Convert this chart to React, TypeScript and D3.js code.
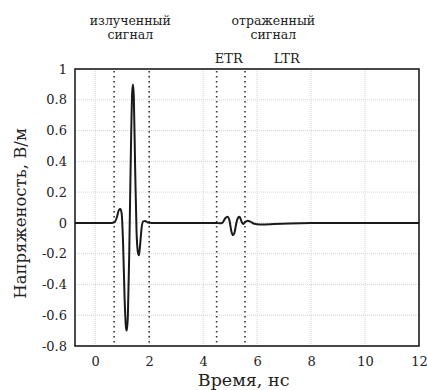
import { useEffect, useRef } from 'react'
import * as d3 from 'd3'

// signal: [time ns, field V/m]
const signal: [number, number][] = [
  [-0.75, 0], [0.6, 0], [0.72, 0.005], [0.8, 0.035], [0.88, 0.085], [0.93, 0.09], [0.98, 0.06],
  [1.03, -0.12], [1.09, -0.5], [1.14, -0.68], [1.17, -0.7], [1.21, -0.6], [1.26, -0.2],
  [1.32, 0.45], [1.37, 0.85], [1.4, 0.9], [1.43, 0.82], [1.48, 0.35], [1.53, -0.05],
  [1.58, -0.19], [1.62, -0.21], [1.66, -0.15], [1.72, -0.03], [1.78, 0.01], [1.85, 0.012],
  [1.95, 0.003], [2.1, 0], [4.5, 0], [4.62, -0.003], [4.72, 0.002], [4.82, 0.03],
  [4.9, 0.04], [4.97, 0.02], [5.04, -0.05], [5.1, -0.08], [5.16, -0.065], [5.23, 0.0],
  [5.3, 0.035], [5.35, 0.04], [5.41, 0.015], [5.48, -0.008], [5.55, 0.005], [5.65, 0.014],
  [5.75, 0.008], [5.9, -0.006], [6.1, -0.01], [6.6, -0.008], [7.2, -0.004], [8, -0.001],
  [9, 0], [12, 0],
]
const markers = [0.7, 2.0, 4.5, 5.55]
const xTicks = [0, 2, 4, 6, 8, 10, 12]
const yTicks = [-0.8, -0.6, -0.4, -0.2, 0, 0.2, 0.4, 0.6, 0.8, 1]
const notes = [
  { x: 1.3, lines: ['излученный', 'сигнал'] },
  { x: 6.6, lines: ['отраженный', 'сигнал'] },
]
const regions = [
  { x: 4.95, label: 'ETR' },
  { x: 7.1, label: 'LTR' },
]

export default function App() {
  const svgRef = useRef<SVGSVGElement>(null)

  useEffect(() => {
    if (!svgRef.current) return
    const svg = d3.select(svgRef.current)
    svg.selectAll('*').remove()
    const width = 427
    const height = 390
    const margin = { top: 69, right: 8, bottom: 44, left: 75 }
    const w = width - margin.left - margin.right
    const h = height - margin.top - margin.bottom
    const font = 'DejaVu Serif'

    svg.attr('width', width).attr('height', height)
    const g = svg.append('g').attr('transform', `translate(${margin.left},${margin.top})`)

    const x = d3.scaleLinear().domain([-0.75, 12]).range([0, w])
    const y = d3.scaleLinear().domain([-0.8, 1]).range([h, 0])

    // grid
    g.selectAll('.gx').data(xTicks).enter().append('line')
      .attr('x1', (d) => x(d)).attr('x2', (d) => x(d)).attr('y1', 0).attr('y2', h)
      .attr('stroke', '#d4d4d4').attr('stroke-width', 1).attr('stroke-dasharray', '1,1')
    g.selectAll('.gy').data(yTicks).enter().append('line')
      .attr('x1', 0).attr('x2', w).attr('y1', (d) => y(d)).attr('y2', (d) => y(d))
      .attr('stroke', '#d4d4d4').attr('stroke-width', 1).attr('stroke-dasharray', '1,1')

    // marker lines
    g.selectAll('.mk').data(markers).enter().append('line')
      .attr('x1', (d) => x(d)).attr('x2', (d) => x(d)).attr('y1', 2).attr('y2', h)
      .attr('stroke', '#333').attr('stroke-width', 1.6).attr('stroke-dasharray', '1.5,3.5')

    // signal
    const line = d3.line<[number, number]>()
      .x((d) => x(d[0]))
      .y((d) => y(d[1]))
      .curve(d3.curveMonotoneX)
    g.append('path').datum(signal)
      .attr('fill', 'none').attr('stroke', '#1a1a1a').attr('stroke-width', 2)
      .attr('stroke-linejoin', 'round').attr('d', line)

    // frame
    g.append('rect').attr('width', w).attr('height', h)
      .attr('fill', 'none').attr('stroke', '#111').attr('stroke-width', 1.5)

    // axes
    const xAxis = g.append('g').attr('transform', `translate(0,${h})`)
      .call(d3.axisBottom(x).tickValues(xTicks).tickSize(0).tickPadding(11).tickFormat((d) => String(d)))
    xAxis.select('.domain').remove()
    const yAxis = g.append('g')
      .call(d3.axisLeft(y).tickValues(yTicks).tickSize(0).tickPadding(8).tickFormat((d) => String(d)))
    yAxis.select('.domain').remove()
    g.selectAll('.tick text').attr('font-family', font).attr('font-size', 13).attr('fill', '#222')

    // axis labels
    g.append('text')
      .attr('transform', `translate(${-49},${h / 2 + 6}) rotate(-90)`)
      .attr('text-anchor', 'middle').attr('font-family', font).attr('font-size', 16.5).attr('fill', '#222')
      .text('Напряженость, В/м')
    g.append('text')
      .attr('x', x(5.5)).attr('y', h + 40)
      .attr('text-anchor', 'middle').attr('font-family', font).attr('font-size', 17.5).attr('fill', '#222')
      .text('Время, нс')

    // annotations
    notes.forEach((n) => {
      n.lines.forEach((t, i) => {
        g.append('text')
          .attr('x', x(n.x)).attr('y', -44 + i * 14)
          .attr('text-anchor', 'middle').attr('font-family', font).attr('font-size', 12.5).attr('fill', '#222')
          .text(t)
      })
    })
    regions.forEach((r) => {
      g.append('text')
        .attr('x', x(r.x)).attr('y', -6)
        .attr('text-anchor', 'middle').attr('font-family', font).attr('font-size', 13).attr('fill', '#222')
        .text(r.label)
    })
  }, [])

  return (
    <div style={{ position: 'absolute', left: 0, top: 0 }}>
      <svg ref={svgRef}></svg>
    </div>
  )
}
